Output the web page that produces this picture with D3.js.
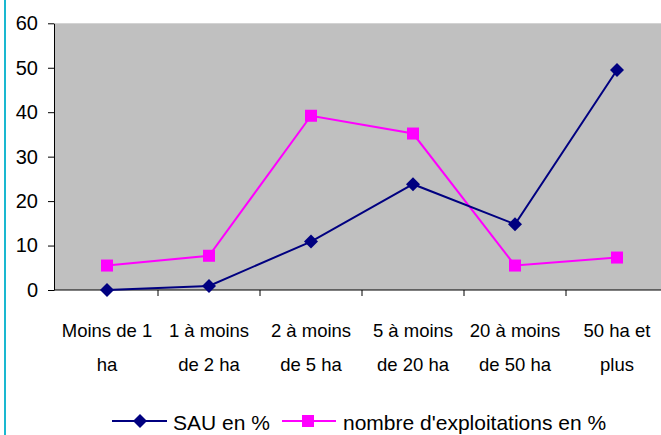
<!DOCTYPE html>
<html><head><meta charset="utf-8">
<script src="https://cdn.jsdelivr.net/npm/d3@7"></script>
<style>html,body{margin:0;padding:0;background:#fff;}svg{display:block;}</style>
</head><body>
<svg id="c" width="661" height="435"></svg>
<script>
const categories = [["Moins de 1","ha"],["1 à moins","de 2 ha"],["2 à moins","de 5 ha"],["5 à moins","de 20 ha"],["20 à moins","de 50 ha"],["50 ha et","plus"]];
const sauValues = [0, 0.9, 10.9, 23.8, 14.8, 49.5];
const exploitValues = [5.5, 7.7, 39.2, 35.2, 5.5, 7.3];
const yTicks = [0, 10, 20, 30, 40, 50, 60];
const seriesNames = ["SAU en %", "nombre d'exploitations en %"];

const svg = d3.select("#c");
const font = "'Liberation Sans', Arial, sans-serif";
const x = d3.scaleBand().domain(d3.range(categories.length)).range([56, 668]);
const y = d3.scaleLinear().domain([0, 60]).range([290, 23.3]);

// left cyan rule
svg.append("rect").attr("x", 4).attr("y", 0).attr("width", 2).attr("height", 435).attr("fill", "#1ab8d0");

// plot area
svg.append("rect").attr("x", 54).attr("y", y(60)).attr("width", 661 - 54).attr("height", y(0) - y(60)).attr("fill", "#c0c0c0");

// y axis
const yAxis = d3.axisLeft(y).tickValues(yTicks).tickSize(6).tickPadding(10).tickSizeOuter(0);
const ga = svg.append("g").attr("transform", "translate(54,0)").call(yAxis);
ga.select(".domain").attr("stroke", "#000");
ga.selectAll("text").attr("font-family", font).attr("font-size", 20).attr("fill", "#000");

// x axis
const xb = svg.append("g");
xb.append("line").attr("x1", 54).attr("x2", 661).attr("y1", y(0)).attr("y2", y(0)).attr("stroke", "#000");
xb.selectAll("line.t").data(d3.range(1, categories.length)).join("line").attr("class", "t")
  .attr("x1", d => x(d)).attr("x2", d => x(d)).attr("y1", y(0)).attr("y2", y(0) + 6).attr("stroke", "#000");
const lab = svg.append("g").selectAll("text").data(categories).join("text")
  .attr("x", (d, i) => x(i) + x.bandwidth() / 2).attr("text-anchor", "middle")
  .attr("font-family", font).attr("font-size", 18.5).attr("fill", "#000");
lab.each(function(d) {
  const t = d3.select(this);
  d.forEach((s, k) => t.append("tspan").attr("x", t.attr("x")).attr("y", 337 + k * 34).text(s));
});

const cx = i => x(i) + x.bandwidth() / 2;
const line = d3.line().x((d, i) => cx(i)).y(d => y(d));
svg.append("path").datum(exploitValues).attr("d", line).attr("fill", "none").attr("stroke", "#ff00ff").attr("stroke-width", 2);
svg.append("path").datum(sauValues).attr("d", line).attr("fill", "none").attr("stroke", "#000080").attr("stroke-width", 2);

const sq = 12, dm = 7;
svg.append("g").selectAll("rect").data(exploitValues).join("rect")
  .attr("x", (d, i) => cx(i) - sq / 2).attr("y", d => y(d) - sq / 2).attr("width", sq).attr("height", sq).attr("fill", "#ff00ff");
const diamond = (px, py) => `M${px},${py - dm}L${px + dm},${py}L${px},${py + dm}L${px - dm},${py}Z`;
svg.append("g").selectAll("path").data(sauValues).join("path")
  .attr("d", (d, i) => diamond(cx(i), y(d))).attr("fill", "#000080");

// legend
const ly = 421;
const lg = svg.append("g");
lg.append("line").attr("x1", 112).attr("x2", 167).attr("y1", ly).attr("y2", ly).attr("stroke", "#000080").attr("stroke-width", 2);
lg.append("path").attr("d", diamond(140, ly)).attr("fill", "#000080");
lg.append("text").attr("x", 173).attr("y", 430).attr("font-family", font).attr("font-size", 21).text(seriesNames[0]);
lg.append("line").attr("x1", 282).attr("x2", 336).attr("y1", ly).attr("y2", ly).attr("stroke", "#ff00ff").attr("stroke-width", 2);
lg.append("rect").attr("x", 308 - sq / 2).attr("y", ly - sq / 2).attr("width", sq).attr("height", sq).attr("fill", "#ff00ff");
lg.append("text").attr("x", 343).attr("y", 430).attr("font-family", font).attr("font-size", 21).text(seriesNames[1]);
</script>
</body></html>
